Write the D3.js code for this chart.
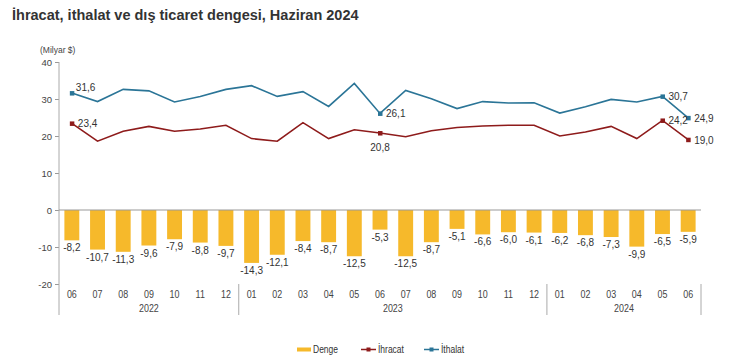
<!DOCTYPE html>
<html>
<head>
<meta charset="utf-8">
<script src="https://d3js.org/d3.v7.min.js"></script>
<style>
  body { margin: 0; background: #fff; }
  svg { font-family: "Liberation Sans", Arial, sans-serif; }
</style>
</head>
<body>
<script>
// months, June 2022 .. June 2024
var months = ["06","07","08","09","10","11","12",
              "01","02","03","04","05","06","07","08","09","10","11","12",
              "01","02","03","04","05","06"];
var years = [{label: "2022", from: 0, to: 7}, {label: "2023", from: 7, to: 19}, {label: "2024", from: 19, to: 25}];

var ihracat = [23.4, 18.6, 21.3, 22.6, 21.3, 21.9, 22.9,
               19.3, 18.6, 23.6, 19.3, 21.7, 20.8, 19.8, 21.4, 22.3, 22.7, 22.9, 22.9,
               20.0, 21.1, 22.6, 19.3, 24.2, 19.0];
var ithalat = [31.6, 29.3, 32.6, 32.2, 29.2, 30.7, 32.6,
               33.6, 30.7, 32.0, 28.0, 34.2, 26.1, 32.3, 30.1, 27.4, 29.3, 28.9, 29.0,
               26.2, 27.9, 29.9, 29.2, 30.7, 24.9];
var denge = [-8.2, -10.7, -11.3, -9.6, -7.9, -8.8, -9.7,
             -14.3, -12.1, -8.4, -8.7, -12.5, -5.3, -12.5, -8.7, -5.1, -6.6, -6.0, -6.1,
             -6.2, -6.8, -7.3, -9.9, -6.5, -5.9];
var yTicks = [40, 30, 20, 10, 0, -10, -20];

// only these points carry a marker and a value label
var ihracatLabels = [0, 12, 23, 24];
var ithalatLabels = [0, 12, 23, 24];

var colDenge = "#f6b92b", colIhr = "#8e1b1b", colIth = "#2b7597";

var W = 746, H = 361;
var svg = d3.select("body").append("svg").attr("width", W).attr("height", H);

var x = d3.scaleBand().domain(d3.range(months.length)).range([59, 701]).paddingInner(0.42).paddingOuter(0.21);
var y = d3.scaleLinear().domain([-20, 40]).range([284, 62]);
var cx = function(i) { return x(i) + x.bandwidth() / 2; };
var fmt = function(v) { return v.toFixed(1).replace(".", ","); };
var gap = x.step() * x.paddingInner() / 2;

// title
svg.append("text").attr("x", 12).attr("y", 20)
  .style("font-size", "14.5px").style("font-weight", "bold").attr("fill", "#333")
  .text("İhracat, ithalat ve dış ticaret dengesi, Haziran 2024");

svg.append("text").attr("x", 40).attr("y", 53)
  .style("font-size", "8.5px").attr("fill", "#444").text("(Milyar $)");

// y axis
var gy = svg.append("g").attr("transform", "translate(59,0)")
  .call(d3.axisLeft(y).tickValues(yTicks).tickSize(4).tickPadding(3).tickFormat(function(d) { return String(d); }));
gy.select(".domain").remove();
gy.selectAll("line").attr("stroke", "#999");
gy.selectAll("text").style("font-size", "9.5px").attr("fill", "#444");
svg.append("line").attr("x1", 59).attr("x2", 59).attr("y1", y(40)).attr("y2", 315).attr("stroke", "#aaa");

// bars
svg.selectAll("rect.denge").data(denge).enter().append("rect")
  .attr("x", function(d, i) { return x(i); })
  .attr("y", y(0))
  .attr("width", x.bandwidth())
  .attr("height", function(d) { return y(d) - y(0); })
  .attr("fill", colDenge);

svg.selectAll("text.denge").data(denge).enter().append("text")
  .attr("x", function(d, i) { return cx(i); })
  .attr("y", function(d) { return y(d) + 11; })
  .attr("text-anchor", "middle").style("font-size", "10px").attr("fill", "#333")
  .text(fmt);

// zero line
svg.append("line").attr("x1", 59).attr("x2", 701).attr("y1", y(0)).attr("y2", y(0)).attr("stroke", "#999");

// lines
var line = d3.line().x(function(d, i) { return cx(i); }).y(function(d) { return y(d); });
svg.append("path").datum(ithalat).attr("d", line).attr("fill", "none").attr("stroke", colIth).attr("stroke-width", 1.6);
svg.append("path").datum(ihracat).attr("d", line).attr("fill", "none").attr("stroke", colIhr).attr("stroke-width", 1.6);

function markers(data, idx, col, cls) {
  svg.selectAll("rect." + cls).data(idx).enter().append("rect")
    .attr("x", function(i) { return cx(i) - 2; })
    .attr("y", function(i) { return y(data[i]) - 2; })
    .attr("width", 4.5).attr("height", 4.5).attr("fill", col);
}
markers(ithalat, ithalatLabels, colIth, "mth");
markers(ihracat, ihracatLabels, colIhr, "mih");

function pointLabels(data, idx, cls, pos) {
  svg.selectAll("text." + cls).data(idx).enter().append("text")
    .attr("x", function(i) { var p = pos(i); return cx(i) + p[0]; })
    .attr("y", function(i) { var p = pos(i); return y(data[i]) + p[1]; })
    .attr("text-anchor", function(i) { return pos(i)[2] || "start"; })
    .style("font-size", "10px").attr("fill", "#333")
    .text(function(i) { return fmt(data[i]); });
}
pointLabels(ithalat, ithalatLabels, "lth", function(i) { return i === 0 ? [4, -2] : [6, 4]; });
pointLabels(ihracat, ihracatLabels, "lih", function(i) { return i === 12 ? [0, 18, "middle"] : [6, 4]; });

// x axis labels (narrow look, like the original)
svg.selectAll("text.month").data(months).enter().append("text")
  .attr("transform", function(d, i) { return "translate(" + cx(i) + ",298) scale(0.85,1)"; })
  .attr("text-anchor", "middle").style("font-size", "10.5px").attr("fill", "#444")
  .text(function(d) { return d; });

svg.selectAll("text.year").data(years).enter().append("text")
  .attr("transform", function(d) {
    var mid = (x(d.from) - gap + x(d.to - 1) + x.bandwidth() + gap) / 2;
    return "translate(" + mid + ",312) scale(0.85,1)";
  })
  .attr("text-anchor", "middle").style("font-size", "10.5px").attr("fill", "#444")
  .text(function(d) { return d.label; });

// year separators
var seps = [7, 19];
svg.selectAll("line.sep").data(seps).enter().append("line")
  .attr("x1", function(i) { return x(i) - gap; })
  .attr("x2", function(i) { return x(i) - gap; })
  .attr("y1", 284).attr("y2", 315).attr("stroke", "#aaa");
svg.append("line").attr("x1", 701).attr("x2", 701).attr("y1", 284).attr("y2", 315).attr("stroke", "#aaa");

// legend
var lg = svg.append("g").style("font-size", "10px").attr("fill", "#333");
lg.append("rect").attr("x", 297).attr("y", 347.5).attr("width", 14).attr("height", 4).attr("fill", colDenge);
lg.append("text").attr("transform", "translate(313,353) scale(0.85,1)").text("Denge");
lg.append("line").attr("x1", 361).attr("x2", 376).attr("y1", 349.5).attr("y2", 349.5).attr("stroke", colIhr).attr("stroke-width", 1.5);
lg.append("rect").attr("x", 366.5).attr("y", 347.5).attr("width", 4).attr("height", 4).attr("fill", colIhr);
lg.append("text").attr("transform", "translate(378,353) scale(0.85,1)").text("İhracat");
lg.append("line").attr("x1", 424).attr("x2", 439).attr("y1", 349.5).attr("y2", 349.5).attr("stroke", colIth).attr("stroke-width", 1.5);
lg.append("rect").attr("x", 429.5).attr("y", 347.5).attr("width", 4).attr("height", 4).attr("fill", colIth);
lg.append("text").attr("transform", "translate(441,353) scale(0.85,1)").text("İthalat");
</script>
</body>
</html>
